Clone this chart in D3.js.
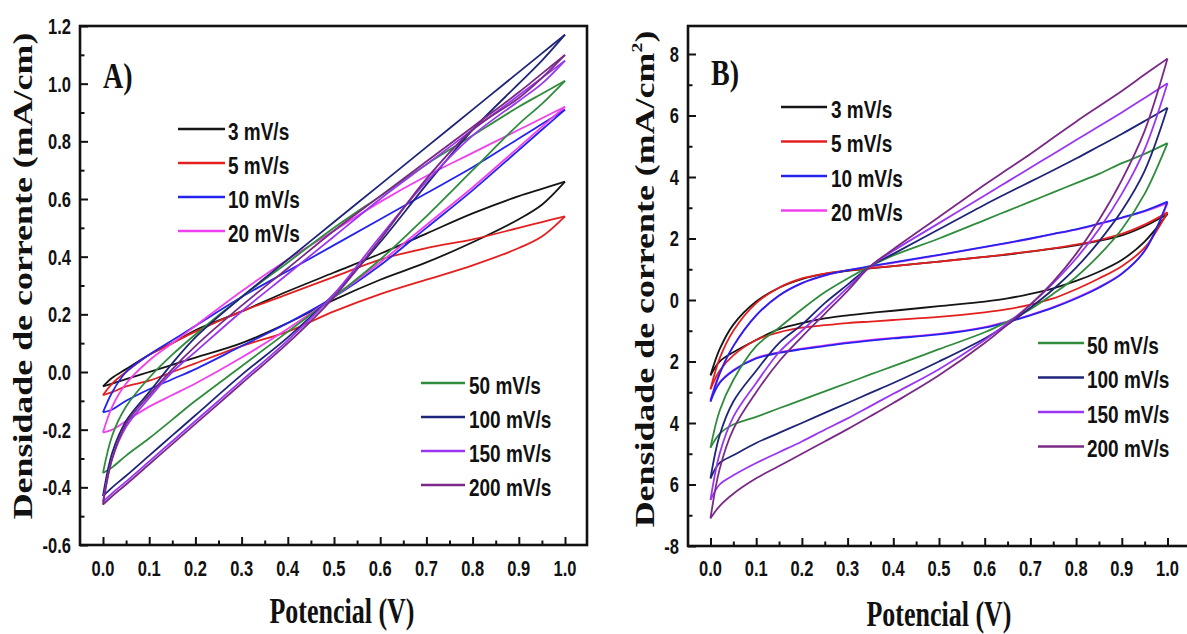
<!DOCTYPE html>
<html>
<head>
<meta charset="utf-8">
<script src="https://cdn.jsdelivr.net/npm/d3@7"></script>
<style>
  html, body { margin: 0; padding: 0; background: #fff; }
  svg { display: block; }
</style>
</head>
<body>
<svg id="chart" width="1187" height="634"></svg>
<script>
// Scan rates and their colours (same order in both panels)
const scanRates = ["3 mV/s", "5 mV/s", "10 mV/s", "20 mV/s", "50 mV/s", "100 mV/s", "150 mV/s", "200 mV/s"];
const rateColors = ["#151515", "#e3201f", "#2424ee", "#f040ef", "#2f8c3c", "#1e2478", "#9a36f2", "#7a2a86"];

// ---- Panel A: potential grid (V) and current density of each voltammogram branch ----
const potentialA = [0, 0.02, 0.05, 0.1, 0.15, 0.2, 0.3, 0.4, 0.5, 0.6, 0.7, 0.8, 0.9, 0.95, 1.0];
const a3Upper   = [-0.05, -0.02, 0.01, 0.06, 0.10, 0.145, 0.21, 0.28, 0.345, 0.41, 0.48, 0.55, 0.61, 0.635, 0.66];
const a3Lower   = [-0.05, -0.04, -0.025, 0.00, 0.025, 0.05, 0.10, 0.17, 0.25, 0.32, 0.38, 0.45, 0.53, 0.58, 0.66];
const a5Upper   = [-0.08, -0.04, 0.00, 0.06, 0.10, 0.14, 0.21, 0.27, 0.33, 0.39, 0.43, 0.46, 0.50, 0.52, 0.54];
const a5Lower   = [-0.08, -0.07, -0.05, -0.03, 0.00, 0.03, 0.09, 0.14, 0.21, 0.27, 0.32, 0.37, 0.43, 0.47, 0.54];
const a10Upper  = [-0.14, -0.07, 0.00, 0.06, 0.11, 0.16, 0.26, 0.35, 0.44, 0.53, 0.62, 0.71, 0.81, 0.86, 0.91];
const a10Lower  = [-0.14, -0.13, -0.10, -0.06, -0.025, 0.01, 0.09, 0.17, 0.26, 0.37, 0.50, 0.63, 0.77, 0.84, 0.91];
const a20Upper  = [-0.21, -0.12, -0.04, 0.04, 0.10, 0.16, 0.28, 0.39, 0.49, 0.59, 0.68, 0.76, 0.84, 0.88, 0.92];
const a20Lower  = [-0.21, -0.20, -0.17, -0.12, -0.08, -0.04, 0.05, 0.15, 0.26, 0.38, 0.51, 0.64, 0.78, 0.85, 0.92];
const a50Upper  = [-0.35, -0.22, -0.12, -0.02, 0.06, 0.13, 0.26, 0.38, 0.50, 0.61, 0.72, 0.82, 0.92, 0.965, 1.01];
const a50Lower  = [-0.35, -0.33, -0.29, -0.23, -0.165, -0.10, 0.02, 0.14, 0.26, 0.39, 0.54, 0.70, 0.86, 0.93, 1.01];
const a100Upper = [-0.43, -0.28, -0.17, -0.07, 0.03, 0.12, 0.26, 0.39, 0.52, 0.65, 0.78, 0.91, 1.04, 1.105, 1.17];
const a100Lower = [-0.43, -0.40, -0.36, -0.29, -0.22, -0.15, -0.01, 0.12, 0.27, 0.45, 0.65, 0.84, 1.00, 1.08, 1.17];
const a150Upper = [-0.45, -0.30, -0.19, -0.09, 0.00, 0.07, 0.21, 0.34, 0.47, 0.60, 0.72, 0.84, 0.96, 1.02, 1.08];
const a150Lower = [-0.45, -0.42, -0.38, -0.31, -0.24, -0.17, -0.03, 0.11, 0.27, 0.47, 0.66, 0.82, 0.94, 1.00, 1.08];
const a200Upper = [-0.46, -0.30, -0.18, -0.08, 0.01, 0.09, 0.23, 0.36, 0.49, 0.61, 0.73, 0.85, 0.97, 1.035, 1.10];
const a200Lower = [-0.46, -0.43, -0.39, -0.32, -0.25, -0.18, -0.04, 0.10, 0.26, 0.46, 0.67, 0.84, 0.95, 1.02, 1.10];

// ---- Panel B ----
const potentialB = [0, 0.02, 0.05, 0.1, 0.15, 0.2, 0.25, 0.3, 0.35, 0.4, 0.5, 0.6, 0.65, 0.7, 0.75, 0.8, 0.85, 0.9, 0.95, 1.0];
const b3Upper   = [-2.45, -1.6, -0.8, -0.05, 0.4, 0.68, 0.85, 0.95, 1.03, 1.1, 1.25, 1.4, 1.48, 1.57, 1.67, 1.78, 1.92, 2.1, 2.4, 2.8];
const b3Lower   = [-2.45, -2.0, -1.7, -1.3, -0.95, -0.75, -0.6, -0.5, -0.42, -0.35, -0.2, -0.05, 0.05, 0.2, 0.38, 0.62, 0.92, 1.3, 1.9, 2.8];
const b5Upper   = [-2.9, -1.9, -1.0, -0.1, 0.4, 0.7, 0.86, 0.96, 1.04, 1.1, 1.25, 1.4, 1.49, 1.58, 1.68, 1.8, 1.95, 2.15, 2.45, 2.85];
const b5Lower   = [-2.9, -2.3, -1.8, -1.3, -1.05, -0.9, -0.82, -0.75, -0.7, -0.65, -0.55, -0.4, -0.3, -0.15, 0.05, 0.35, 0.7, 1.1, 1.7, 2.85];
const b10Upper  = [-3.3, -2.4, -1.5, -0.5, 0.15, 0.55, 0.8, 0.97, 1.1, 1.22, 1.47, 1.73, 1.86, 2.0, 2.15, 2.3, 2.48, 2.68, 2.9, 3.2];
const b10Lower  = [-3.3, -2.7, -2.3, -1.9, -1.72, -1.6, -1.5, -1.4, -1.32, -1.25, -1.12, -0.9, -0.72, -0.5, -0.25, 0.05, 0.4, 0.85, 1.6, 3.2];
const b20Upper  = [-3.25, -2.38, -1.5, -0.5, 0.14, 0.54, 0.79, 0.96, 1.09, 1.21, 1.46, 1.72, 1.85, 1.99, 2.14, 2.29, 2.47, 2.67, 2.88, 3.15];
const b20Lower  = [-3.25, -2.68, -2.28, -1.88, -1.7, -1.58, -1.48, -1.38, -1.3, -1.23, -1.1, -0.88, -0.7, -0.48, -0.23, 0.07, 0.42, 0.86, 1.6, 3.15];
const b50Upper  = [-4.8, -3.6, -2.6, -1.5, -0.9, -0.3, 0.25, 0.7, 1.1, 1.45, 2.0, 2.6, 2.9, 3.2, 3.5, 3.8, 4.1, 4.45, 4.75, 5.1];
const b50Lower  = [-4.8, -4.35, -4.05, -3.8, -3.52, -3.25, -2.97, -2.7, -2.42, -2.15, -1.6, -1.05, -0.7, -0.3, 0.2, 0.75, 1.45, 2.3, 3.45, 5.1];
const b100Upper = [-5.8, -4.4, -3.3, -2.3, -1.4, -0.8, -0.1, 0.5, 1.1, 1.5, 2.3, 3.1, 3.48, 3.85, 4.22, 4.6, 5.0, 5.4, 5.82, 6.25];
const b100Lower = [-5.8, -5.3, -5.05, -4.65, -4.32, -4.0, -3.67, -3.35, -3.02, -2.7, -2.0, -1.25, -0.8, -0.25, 0.35, 1.05, 1.9, 2.9, 4.2, 6.25];
const b150Upper = [-6.5, -5.0, -3.8, -2.7, -1.7, -1.0, -0.3, 0.4, 1.1, 1.6, 2.5, 3.4, 3.85, 4.3, 4.75, 5.2, 5.65, 6.1, 6.57, 7.05];
const b150Lower = [-6.5, -6.0, -5.7, -5.3, -4.95, -4.6, -4.22, -3.85, -3.45, -3.05, -2.25, -1.3, -0.75, -0.15, 0.55, 1.35, 2.3, 3.45, 4.9, 7.05];
const b200Upper = [-7.1, -5.5, -4.2, -3.0, -2.0, -1.2, -0.45, 0.3, 1.1, 1.65, 2.7, 3.75, 4.25, 4.75, 5.28, 5.8, 6.3, 6.8, 7.33, 7.85];
const b200Lower = [-7.1, -6.7, -6.3, -5.8, -5.4, -5.0, -4.6, -4.2, -3.78, -3.35, -2.45, -1.4, -0.8, -0.15, 0.6, 1.5, 2.6, 3.9, 5.5, 7.85];

// Axis ticks and their printed labels
const xTickValues = [0, 0.1, 0.2, 0.3, 0.4, 0.5, 0.6, 0.7, 0.8, 0.9, 1.0];
const xTickLabels = ["0.0", "0.1", "0.2", "0.3", "0.4", "0.5", "0.6", "0.7", "0.8", "0.9", "1.0"];
const yTickValuesA = [-0.6, -0.4, -0.2, 0, 0.2, 0.4, 0.6, 0.8, 1.0, 1.2];
const yTickLabelsA = ["-0.6", "-0.4", "-0.2", "0.0", "0.2", "0.4", "0.6", "0.8", "1.0", "1.2"];
const yTickValuesB = [-8, -6, -4, -2, 0, 2, 4, 6, 8];
const yTickLabelsB = ["-8", "6", "4", "2", "0", "2", "4", "6", "8"];

const serif = "'Liberation Serif', 'Times New Roman', serif";
const sans = "'Liberation Sans', Arial, sans-serif";

const svg = d3.select("#chart");
svg.append("rect").attr("width", 1187).attr("height", 634).attr("fill", "#fff");

function stretchedText(parent, x, y, sx, sy, str, opts) {
  const t = parent.append("text")
    .attr("transform", `translate(${x},${y}) scale(${sx},${sy})`)
    .attr("font-family", opts.family)
    .attr("font-weight", "bold")
    .attr("font-size", opts.size)
    .attr("fill", "#111")
    .attr("text-anchor", opts.anchor || "start");
  if (opts.baseline) t.attr("dominant-baseline", opts.baseline);
  t.text(str);
  return t;
}

function drawPanel(cfg) {
  const g = svg.append("g");
  const x = d3.scaleLinear().domain([0, 1]).range(cfg.xRange);
  const y = d3.scaleLinear().domain(cfg.yDomain).range(cfg.yRange);
  const f = cfg.frame;

  const clipId = "clip-" + cfg.name;
  svg.append("clipPath").attr("id", clipId)
    .append("rect").attr("x", f.left).attr("y", f.top)
    .attr("width", f.right - f.left).attr("height", f.bottom - f.top);

  // voltammograms: each branch drawn as its own smooth curve
  const line = d3.line()
    .x(d => x(d[0]))
    .y(d => y(d[1]))
    .curve(d3.curveCatmullRom.alpha(0.5));
  const curves = g.append("g").attr("clip-path", `url(#${clipId})`);
  cfg.order.forEach(i => {
    cfg.loops[i].forEach(branch => {
      curves.append("path")
        .datum(cfg.potential.map((p, k) => [p, branch[k]]))
        .attr("d", line)
        .attr("fill", "none")
        .attr("stroke", rateColors[i])
        .attr("stroke-width", 1.8)
        .attr("stroke-linejoin", "round");
    });
  });

  // frame
  g.append("rect")
    .attr("x", f.left).attr("y", f.top)
    .attr("width", f.right - f.left).attr("height", f.bottom - f.top)
    .attr("fill", "none").attr("stroke", "#111").attr("stroke-width", 2.6);

  // inward ticks
  const xMinor = xTickValues.slice(0, -1).map(v => v + 0.05);
  const addAxis = (axis, tx, ty) => {
    const a = g.append("g").attr("transform", `translate(${tx},${ty})`).call(axis);
    a.select(".domain").remove();
    a.selectAll(".tick line").attr("stroke", "#111").attr("stroke-width", 2);
    a.selectAll(".tick text").remove();
  };
  addAxis(d3.axisBottom(x).tickValues(xTickValues).tickSize(-8).tickFormat(""), 0, f.bottom);
  addAxis(d3.axisBottom(x).tickValues(xMinor).tickSize(-4.5).tickFormat(""), 0, f.bottom);
  addAxis(d3.axisLeft(y).tickValues(cfg.yTicks).tickSize(-8).tickFormat(""), f.left, 0);
  addAxis(d3.axisLeft(y).tickValues(cfg.yMinor).tickSize(-4.5).tickFormat(""), f.left, 0);

  // tick labels
  xTickValues.forEach((v, i) => {
    stretchedText(g, x(v), cfg.xLabelY, 1, 1.35, xTickLabels[i],
      { family: sans, size: 16.5, anchor: "middle", baseline: "central" });
  });
  cfg.yTicks.forEach((v, i) => {
    stretchedText(g, cfg.yLabelX, y(v), 1, 1.35, cfg.yLabels[i],
      { family: sans, size: 16.5, anchor: "end", baseline: "central" });
  });

  // axis titles
  stretchedText(g, cfg.xTitle[0], cfg.xTitle[1], 1, 1.35, "Potencial (V)",
    { family: serif, size: 26, anchor: "middle" });
  const yt = g.append("text")
    .attr("transform", `translate(${cfg.yTitle[0]},${cfg.yTitle[1]}) rotate(-90) scale(1.33,1)`)
    .attr("font-family", serif).attr("font-weight", "bold").attr("font-size", 27)
    .attr("fill", "#111").attr("text-anchor", "middle");
  yt.append("tspan").text("Densidade de corrente (mA/cm");
  if (cfg.squared) {
    yt.append("tspan").attr("font-size", 15).attr("dy", -12).text("2");
    yt.append("tspan").attr("dy", 12).text(")");
  } else {
    yt.append("tspan").text(")");
  }

  // panel letter
  stretchedText(g, cfg.letterPos[0], cfg.letterPos[1], 1, 1.25, cfg.letter,
    { family: serif, size: 28 });

  // legends
  cfg.legends.forEach(leg => {
    leg.items.forEach((idx, j) => {
      const ly = leg.y0 + j * leg.step;
      g.append("line")
        .attr("x1", leg.x1).attr("x2", leg.x2).attr("y1", ly).attr("y2", ly)
        .attr("stroke", rateColors[idx]).attr("stroke-width", 2.6);
      stretchedText(g, leg.tx, ly + 10.5, 1, 1.3, scanRates[idx],
        { family: sans, size: 19 });
    });
  });
}

drawPanel({
  name: "a",
  potential: potentialA,
  loops: [[a3Upper, a3Lower], [a5Upper, a5Lower], [a10Upper, a10Lower], [a20Upper, a20Lower],
          [a50Upper, a50Lower], [a100Upper, a100Lower], [a150Upper, a150Lower], [a200Upper, a200Lower]],
  order: [0, 1, 2, 3, 4, 5, 6, 7],
  xRange: [103, 565],
  yDomain: [-0.6, 1.2],
  yRange: [545, 26],
  frame: { left: 80, right: 587, top: 26, bottom: 545 },
  yTicks: yTickValuesA,
  yLabels: yTickLabelsA,
  yMinor: [-0.5, -0.3, -0.1, 0.1, 0.3, 0.5, 0.7, 0.9, 1.1],
  xLabelY: 568,
  yLabelX: 71,
  xTitle: [342, 623],
  yTitle: [32, 276],
  squared: false,
  letter: "A)",
  letterPos: [103, 88],
  legends: [
    { items: [0, 1, 2, 3], y0: 129, step: 34, x1: 178, x2: 225, tx: 228 },
    { items: [4, 5, 6, 7], y0: 383, step: 34, x1: 421, x2: 465, tx: 469 }
  ]
});

drawPanel({
  name: "b",
  potential: potentialB,
  loops: [[b3Upper, b3Lower], [b5Upper, b5Lower], [b10Upper, b10Lower], [b20Upper, b20Lower],
          [b50Upper, b50Lower], [b100Upper, b100Lower], [b150Upper, b150Lower], [b200Upper, b200Lower]],
  // the 20 mV/s loop sits beneath the 10 mV/s one
  order: [3, 0, 1, 2, 4, 5, 6, 7],
  xRange: [710.5, 1167.5],
  yDomain: [-8, 8],
  yRange: [546, 54],
  frame: { left: 688, right: 1200, top: 26, bottom: 546 },
  yTicks: yTickValuesB,
  yLabels: yTickLabelsB,
  yMinor: [-7, -5, -3, -1, 1, 3, 5, 7],
  xLabelY: 568,
  yLabelX: 679,
  xTitle: [939, 626],
  yTitle: [654, 279],
  squared: true,
  letter: "B)",
  letterPos: [711, 85],
  legends: [
    { items: [0, 1, 2, 3], y0: 107, step: 34.5, x1: 781, x2: 827, tx: 831 },
    { items: [4, 5, 6, 7], y0: 343, step: 34.5, x1: 1038, x2: 1084, tx: 1087 }
  ]
});
</script>
</body>
</html>
